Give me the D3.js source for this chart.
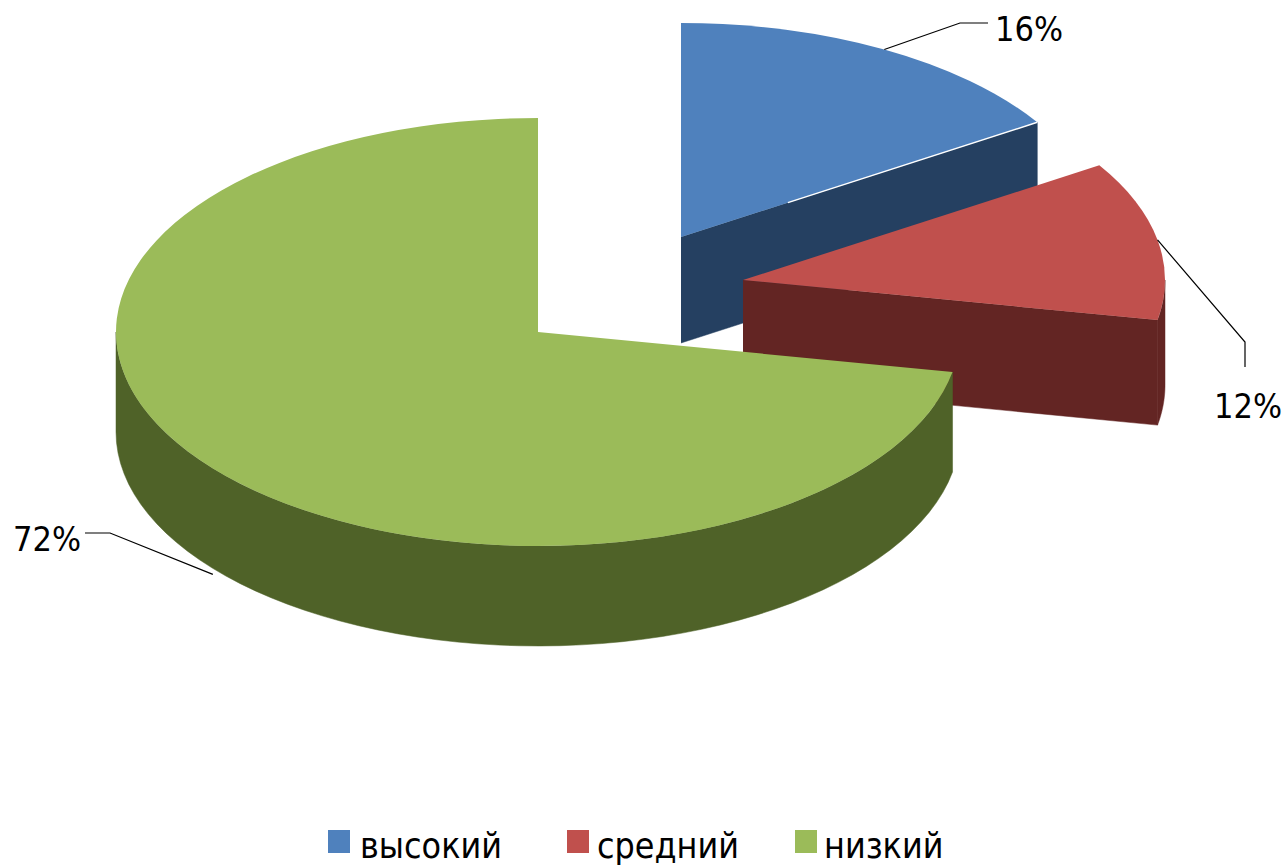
<!DOCTYPE html>
<meta charset="utf-8">
<title>Pie</title>
<script src="https://d3js.org/d3.v7.min.js"></script>
<style>
  body { margin: 0; background: #fff; }
  text { font-family: "DejaVu Sans Condensed", "DejaVu Sans", sans-serif; fill: #000; }
  .pct { font-size: 34px; }
  .leg { font-size: 35.5px; }
  .leader { fill: none; stroke: #000; stroke-width: 1.2px; }
</style>
<div id="chart"></div>
<script>
// data
var categories = ["высокий", "средний", "низкий"];
var values = [16, 12, 72];
var colors = ["#4f81bd", "#c0504d", "#9bbb59"];
var darkColors = ["#254061", "#632523", "#4f6228"];

// where each exploded slice sits on the page
var centers = [[681, 237], [743, 280], [538, 332]];
var depths = [106, 105, 100];
var rx = 422, ry = 214;

// label position + the elbow of the leader line
var labelPos = [[995, 41], [1214, 418], [13, 551]];
var elbows = [[[960, 23], [988, 23]], [[1245, 342], [1245, 367]], [[110, 533], [85, 533]]];
var legendX = [328, 567, 795];
var legendTextX = [360, 597, 824];

var svg = d3.select("#chart").append("svg")
    .attr("width", 1286)
    .attr("height", 867)
    .style("display", "block");

var pie = d3.pie().sort(null);
var slices = pie(values);
var arc = d3.arc().innerRadius(0).outerRadius(rx);

// angle is clockwise from 12 o'clock, same as d3.pie
function pt(a, c, dy) {
    return [c[0] + rx * Math.sin(a), c[1] - ry * Math.cos(a) + (dy || 0)];
}

slices.forEach(function(d, i) {
    var c = centers[i], h = depths[i];

    // cut face at the end of the slice, only the ones that look at us
    if (d.endAngle < Math.PI) {
        var e = pt(d.endAngle, c);
        svg.append("path")
            .attr("fill", darkColors[i])
            .attr("stroke", darkColors[i])
            .attr("stroke-width", 0.5)
            .attr("d", d3.line()([c, e, [e[0], e[1] + h], [c[0], c[1] + h]]));
    }

    // outer wall, front half of the ellipse only
    var a0 = Math.max(d.startAngle, Math.PI / 2),
        a1 = Math.min(d.endAngle, Math.PI * 1.5);
    if (a0 < a1) {
        var top = d3.range(0, 61).map(function(k) { return pt(a0 + (a1 - a0) * k / 60, c); });
        var bot = top.map(function(p) { return [p[0], p[1] + h]; }).reverse();
        svg.append("path")
            .attr("fill", darkColors[i])
            .attr("stroke", darkColors[i])
            .attr("stroke-width", 0.5)
            .attr("d", d3.line()(top.concat(bot)) + "Z");
    }

    // top face
    svg.append("path")
        .attr("fill", colors[i])
        .attr("transform", "translate(" + c[0] + "," + c[1] + ") scale(1," + (ry / rx) + ")")
        .attr("d", arc(d));
});

// thin white highlight on the blue edge
var blueEnd = pt(slices[0].endAngle, centers[0]);
svg.append("line")
    .attr("x1", d3.interpolateNumber(centers[0][0], blueEnd[0])(0.3))
    .attr("y1", d3.interpolateNumber(centers[0][1], blueEnd[1])(0.3))
    .attr("x2", blueEnd[0])
    .attr("y2", blueEnd[1])
    .attr("stroke", "#fff")
    .attr("stroke-width", 1.5);

// leader lines and percent labels
slices.forEach(function(d, i) {
    var mid = (d.startAngle + d.endAngle) / 2;
    var dy = Math.cos(mid) < 0 ? depths[i] + 6 : 0;
    svg.append("path")
        .attr("class", "leader")
        .attr("d", d3.line()([pt(mid, centers[i], dy)].concat(elbows[i])));
    svg.append("text")
        .attr("class", "pct")
        .attr("x", labelPos[i][0])
        .attr("y", labelPos[i][1])
        .text(values[i] + "%");
});

// legend
categories.forEach(function(name, i) {
    svg.append("rect")
        .attr("x", legendX[i])
        .attr("y", 830)
        .attr("width", 22)
        .attr("height", 23)
        .attr("fill", colors[i]);
    svg.append("text")
        .attr("class", "leg")
        .attr("x", legendTextX[i])
        .attr("y", 858)
        .text(name);
});
</script>
